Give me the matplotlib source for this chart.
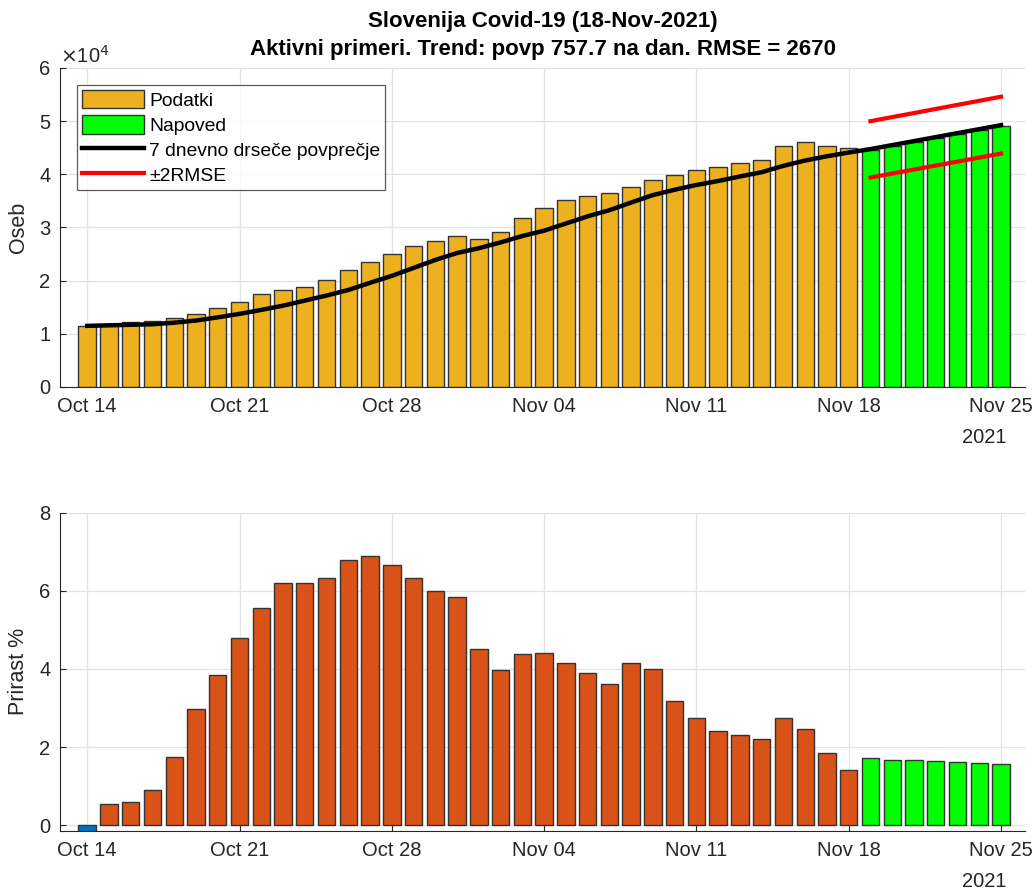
import matplotlib.pyplot as plt
import matplotlib.dates as mdates
import numpy as np
import pandas as pd
from matplotlib.ticker import FuncFormatter

plt.rcParams['font.family'] = ['Liberation Sans', 'DejaVu Sans']

# data
dates_data = pd.date_range('2021-10-14', '2021-11-18')
dates_fc = pd.date_range('2021-11-19', '2021-11-25')
dates_all = pd.date_range('2021-10-14', '2021-11-25')

active = [11560, 11750, 12200, 12400, 12900, 13800, 14800, 15900, 17400, 18300,
          18900, 20200, 22100, 23600, 25100, 26600, 27500, 28400, 27800, 29200,
          31800, 33600, 35100, 35900, 36400, 37600, 38900, 39800, 40800, 41300,
          42100, 42700, 45250, 46100, 45250, 44900]
forecast = [44560, 45300, 46100, 46900, 47600, 48400, 49100]
avg7 = [11500, 11600, 11700, 11800, 12100, 12500, 13100, 13750, 14500, 15300,
        16250, 17200, 18250, 19600, 20900, 22400, 23900, 25200, 26100, 27200,
        28400, 29400, 30750, 32100, 33250, 34700, 36100, 37100, 38000, 38750,
        39600, 40400, 41600, 42600, 43400, 44100, 44750, 45500, 46250, 47000,
        47750, 48500, 49250]
upper = [50000, 50770, 51530, 52300, 53070, 53830, 54600]
lower = [39400, 40150, 40900, 41650, 42400, 43150, 43900]

growth = [-0.3, 0.53, 0.58, 0.89, 1.735, 2.97, 3.84, 4.79, 5.57, 6.19,
          6.19, 6.34, 6.78, 6.88, 6.65, 6.34, 5.99, 5.85, 4.50, 3.96,
          4.39, 4.42, 4.16, 3.89, 3.61, 4.16, 4.01, 3.17, 2.735, 2.40,
          2.30, 2.21, 2.735, 2.47, 1.84, 1.40]
growth_fc = [1.71, 1.68, 1.66, 1.63, 1.61, 1.58, 1.56]

title = 'Slovenija Covid-19 (18-Nov-2021)\nAktivni primeri. Trend: povp 757.7 na dan. RMSE = 2670'
tick_dates = pd.date_range('2021-10-14', '2021-11-25', freq='7D')
tick_labels = ['Oct 14', 'Oct 21', 'Oct 28', 'Nov 04', 'Nov 11', 'Nov 18', 'Nov 25']

yellow = '#EDB120'
orange = '#D95319'
green = '#00FF00'
blue = '#0072BD'
txt = '#262626'
fs = 14.5

fig = plt.figure(figsize=(10.36, 8.9), dpi=100)
ax1 = fig.add_axes([60/1036, 1-387/890, (1025-60)/1036, (387-68)/890])
ax2 = fig.add_axes([60/1036, 1-831/890, (1025-60)/1036, (831-512.7)/890])

xlim = (mdates.date2num(dates_all[0]) - 1.25, mdates.date2num(dates_all[-1]) + 1.1)


def style(ax):
    ax.set_xlim(xlim)
    ax.set_xticks(tick_dates)
    ax.set_xticklabels(tick_labels)
    ax.grid(True, color='#e3e3e3', lw=0.9)
    ax.set_axisbelow(True)
    for s in ['top', 'right']:
        ax.spines[s].set_visible(False)
    for s in ['left', 'bottom']:
        ax.spines[s].set_color(txt)
        ax.spines[s].set_linewidth(0.8)
    ax.tick_params(direction='in', length=4, colors=txt, labelsize=fs, pad=7)
    ax.text(0.981, -41/319, '2021', transform=ax.transAxes, ha='right', va='top',
            fontsize=fs, color=txt)


# top panel
ax1.bar(dates_data, active, width=0.8, color=yellow, edgecolor='#333333', lw=1, label='Podatki')
ax1.bar(dates_fc, forecast, width=0.8, color=green, edgecolor='#333333', lw=1, label='Napoved')
ax1.plot(dates_all, avg7, color='black', lw=3.2, label='7 dnevno drseče povprečje', zorder=5)
ax1.plot(dates_fc, upper, color='red', lw=3, label='±2RMSE', zorder=5)
ax1.plot(dates_fc, lower, color='red', lw=3, zorder=5)
ax1.set_ylim(0, 60000)
ax1.set_yticks(np.arange(0, 60001, 10000))
ax1.yaxis.set_major_formatter(FuncFormatter(lambda v, p: f'{v/1e4:g}'))
style(ax1)
ax1.set_ylabel('Oseb', fontsize=fs + 1, color=txt, labelpad=7)
ax1.text(0.0, 1.005, r'$\times$10$^4$', transform=ax1.transAxes, ha='left', va='bottom',
         fontsize=fs, color=txt)
ax1.set_title(title, fontsize=16, fontweight='bold', color='black', pad=9, linespacing=1.5)

handles, labels = ax1.get_legend_handles_labels()
order = [2, 3, 0, 1]
leg = ax1.legend([handles[i] for i in order], [labels[i] for i in order],
                 loc='upper left', bbox_to_anchor=(0.0176, 0.947), fontsize=13.9,
                 frameon=True, fancybox=False, edgecolor='#333333', handlelength=3.2,
                 handleheight=1.1, borderpad=0.25, labelspacing=0.28, handletextpad=0.3,
                 borderaxespad=0)
leg.get_frame().set_linewidth(0.9)

# bottom panel
colors_growth = [blue if g < 0 else orange for g in growth]
ax2.bar(dates_data, growth, width=0.8, color=colors_growth, edgecolor='#333333', lw=1)
ax2.bar(dates_fc, growth_fc, width=0.8, color=green, edgecolor='#333333', lw=1)
ax2.set_ylim(-0.15, 8)
ax2.set_yticks([0, 2, 4, 6, 8])
style(ax2)
ax2.set_ylabel('Prirast %', fontsize=fs + 1, color=txt, labelpad=7)

fig.savefig('out.png', dpi=100)
